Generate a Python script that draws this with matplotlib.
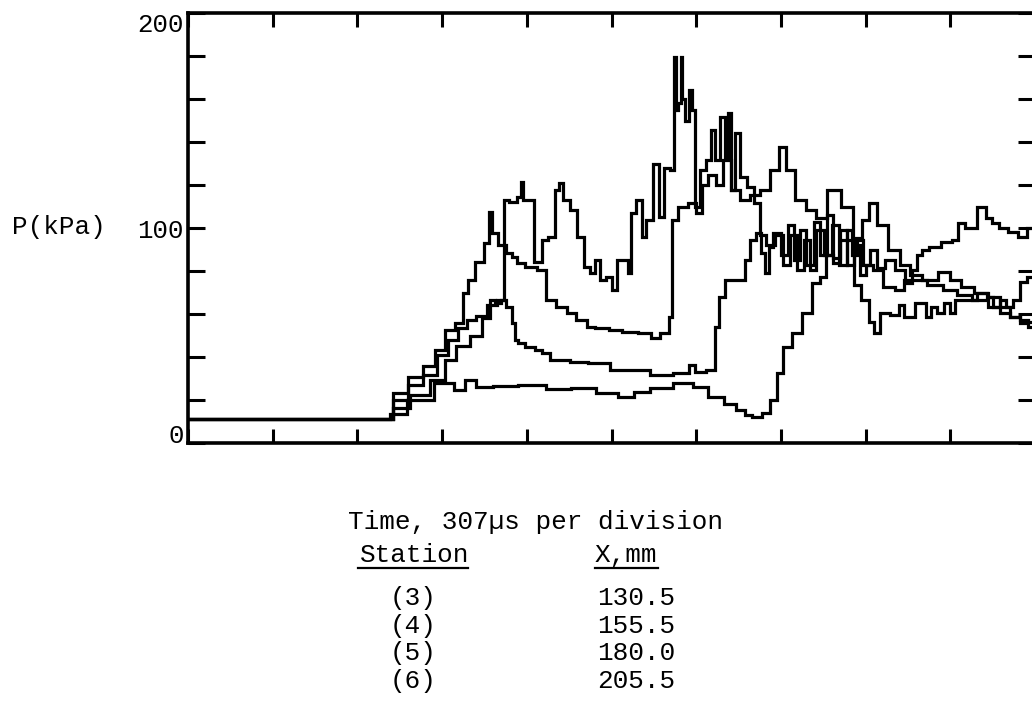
import matplotlib.pyplot as plt
from matplotlib.lines import Line2D

plt.rcParams['font.family'] = ['Liberation Mono', 'DejaVu Sans Mono']

# Pressure traces: time in divisions (307 us each), P in kPa
t_s3 = [0.00, 2.33, 2.50, 2.70, 2.86, 2.98, 3.09, 3.21, 3.29, 3.33, 3.45, 3.53, 3.57, 3.60,
        3.72, 3.80, 3.84, 3.92, 4.04, 4.19, 4.27, 4.43, 4.51, 4.66, 4.75, 4.86, 5.07, 5.18,
        5.45, 5.49, 5.66, 5.69, 5.73, 5.84, 5.96, 6.04, 6.10, 6.19, 6.28, 6.36, 6.46, 6.58,
        6.69, 6.81, 6.93, 7.02, 7.11, 7.23, 7.37, 7.46, 7.64, 7.79, 7.91, 8.00, 8.09, 8.19,
        8.35, 8.47, 8.58, 8.76, 8.94, 9.06, 9.20, 9.35, 9.53, 9.65, 9.76, 9.88, 9.96]
p_s3 = [11.2, 11.2, 23.3, 30.7, 35.8, 43.3, 52.6, 55.8, 69.8, 75.8, 84.0, 93.0, 107.4, 97.7,
        92.0, 88.4, 86.5, 83.7, 81.9, 80.5, 66.5, 63.3, 60.5, 57.2, 54.0, 53.5, 52.6, 51.6,
        51.2, 48.8, 51.2, 58.6, 103.7, 109.8, 111.6, 107.0, 120.0, 124.7, 120.0, 131.6, 117.7, 113.0,
        115.3, 117.7, 127.0, 137.7, 127.0, 113.0, 108.4, 104.7, 117.7, 109.8, 95.3, 103.7, 111.6, 101.4,
        89.8, 82.8, 78.0, 75.8, 79.5, 75.8, 72.6, 69.8, 68.0, 63.3, 58.6, 55.8, 54.0]

t_s4 = [0.00, 2.33, 2.50, 2.70, 2.86, 3.01, 3.12, 3.25, 3.33, 3.48,
        3.57, 3.72, 3.74, 3.84, 3.92, 3.94, 3.96, 4.07, 4.10, 4.16,
        4.19, 4.31, 4.36, 4.39, 4.47, 4.55, 4.63, 4.71, 4.78, 4.83,
        4.90, 4.98, 5.02, 5.10, 5.18, 5.22, 5.25, 5.34, 5.37, 5.45,
        5.54, 5.57, 5.66, 5.73, 5.75, 5.77, 5.81, 5.82, 5.84, 5.89,
        5.93, 5.96, 6.01, 6.08, 6.16, 6.20, 6.25, 6.32, 6.36, 6.40,
        6.43, 6.48, 6.55, 6.64, 6.72, 6.78, 6.87, 6.99, 7.07, 7.14,
        7.23, 7.31, 7.38, 7.46, 7.56, 7.64, 7.73, 7.82, 7.90, 7.99,
        8.08, 8.13, 8.21, 8.37, 8.41, 8.49, 8.68, 8.74, 8.80, 8.88,
        8.96, 9.03, 9.08, 9.23, 9.39, 9.47, 9.55, 9.62, 9.70, 9.79,
        9.86, 9.96]
p_s4 = [11.2, 11.2, 20.0, 27.0, 31.6, 41.0, 47.9, 53.5, 57.2, 59.0,
        64.0, 66.5, 113.0, 112.0, 114.4, 121.4, 113.0, 113.0, 84.0, 84.0,
        94.4, 95.8, 117.7, 121.0, 113.0, 108.4, 95.8, 81.9, 79.0, 85.0,
        75.8, 77.2, 71.2, 85.0, 85.0, 79.0, 107.0, 113.0, 95.8, 103.7,
        130.0, 105.0, 128.0, 127.0, 179.5, 155.0, 158.0, 179.5, 160.0, 150.0,
        164.0, 155.0, 109.8, 127.0, 131.6, 145.6, 131.6, 151.6, 133.0, 153.5,
        117.7, 144.0, 123.7, 119.0, 111.6, 96.7, 92.0, 96.7, 82.8, 96.7,
        80.5, 94.4, 80.5, 99.0, 87.4, 101.4, 82.8, 94.4, 73.5, 66.5,
        56.3, 51.2, 60.5, 59.5, 64.0, 58.6, 65.0, 58.6, 63.3, 60.5,
        65.0, 60.5, 66.5, 66.5, 69.8, 68.0, 63.3, 66.5, 63.3, 66.5,
        75.0, 77.2]

t_s5 = [0.00, 2.33, 2.50, 2.74, 2.98, 3.09, 3.25, 3.41, 3.53, 3.60,
        3.66, 3.72, 3.80, 3.84, 3.88, 3.92, 4.04, 4.16, 4.19, 4.36,
        4.66, 4.78, 5.18, 5.34, 5.57, 5.89, 5.93, 6.04, 6.20, 6.25,
        6.28, 6.40, 6.55, 6.60, 6.67, 6.75, 6.79, 6.84, 6.87, 6.95,
        7.05, 7.11, 7.19, 7.26, 7.34, 7.43, 7.50, 7.58, 7.66, 7.73,
        7.82, 7.90, 7.97, 8.05, 8.13, 8.29, 8.41, 8.49, 8.64, 8.82,
        9.00, 9.17, 9.35, 9.53, 9.65, 9.76, 9.88, 9.96]
p_s5 = [11.2, 11.0, 16.3, 22.3, 29.3, 38.6, 45.0, 49.8, 58.0, 66.5,
        65.0, 66.5, 63.3, 55.8, 47.9, 46.5, 44.7, 43.3, 41.9, 38.6,
        37.7, 37.2, 34.0, 34.0, 31.6, 32.6, 36.3, 33.0, 34.0, 54.0,
        68.0, 75.8, 75.8, 85.0, 94.4, 97.7, 88.4, 79.0, 91.0, 97.7,
        87.4, 101.4, 85.0, 99.0, 82.8, 102.8, 87.4, 106.0, 86.0, 99.0,
        82.8, 92.0, 78.0, 82.8, 80.5, 72.6, 71.2, 75.8, 75.8, 73.5,
        71.2, 68.8, 66.5, 63.3, 60.5, 58.6, 57.2, 56.3]

t_s6 = [0.00, 2.33, 2.44, 2.74, 3.06, 3.21, 3.33, 3.48, 3.72, 4.07,
        4.39, 4.66, 4.98, 5.18, 5.34, 5.57, 5.89, 6.04, 6.25, 6.40,
        6.55, 6.60, 6.72, 6.84, 6.91, 6.99, 7.07, 7.19, 7.31, 7.43,
        7.50, 7.56, 7.66, 7.73, 7.82, 7.87, 7.93, 8.02, 8.09, 8.17,
        8.29, 8.41, 8.52, 8.58, 8.64, 8.68, 8.82, 8.96, 9.08, 9.11,
        9.23, 9.39, 9.45, 9.53, 9.62, 9.74, 9.86, 9.94]
p_s6 = [11.2, 11.2, 13.5, 20.0, 28.0, 24.7, 29.3, 26.0, 26.5, 27.0,
        25.0, 25.6, 23.3, 21.4, 23.7, 25.5, 27.9, 26.0, 21.4, 18.0,
        15.3, 13.0, 12.0, 14.0, 20.0, 32.6, 44.7, 51.2, 60.5, 74.4,
        77.2, 87.4, 83.7, 94.4, 99.0, 87.4, 94.4, 82.8, 89.8, 81.4,
        85.0, 80.5, 74.4, 80.5, 87.4, 89.8, 91.0, 93.5, 94.4, 102.3,
        100.0, 109.8, 104.7, 102.3, 100.0, 98.0, 95.8, 100.0]

stations = ['(3)', '(4)', '(5)', '(6)']
x_mm = ['130.5', '155.5', '180.0', '205.5']

W, H = 1032, 712
fig = plt.figure(figsize=(W / 100, H / 100), dpi=100)
ax = fig.add_axes([188 / W, (H - 443) / H, 847 / W, 430 / H])

# the record is a stepped trace, so draw it as steps
for t, p in [(t_s3, p_s3), (t_s4, p_s4), (t_s5, p_s5), (t_s6, p_s6)]:
    ax.plot(t, p, color='black', lw=2.3, drawstyle='steps-mid', solid_joinstyle='miter')

ax.set_xlim(0, 10)
ax.set_ylim(0, 200)
ax.set_xticks(range(11))
ax.set_xticklabels([])
ax.set_yticks(range(0, 201, 20))
ax.set_yticklabels([str(v) if v % 100 == 0 else '' for v in range(0, 201, 20)])
ax.tick_params(axis='y', direction='in', length=12, width=2.2, left=True, right=True,
               labelsize=18.5, pad=3)
ax.tick_params(axis='x', direction='in', length=10, width=2.2, top=True, bottom=True)
labels = ax.get_yticklabels()
labels[0].set_verticalalignment('baseline')
labels[-1].set_verticalalignment('top')
for s in ax.spines.values():
    s.set_linewidth(2.6)

fs = 18.7
fig.text(12 / W, 1 - 227 / H, 'P(kPa)', fontsize=fs, va='center', ha='left')
fig.text(348 / W, 1 - 529 / H, 'Time, 307µs per division', fontsize=fs, va='baseline')
fig.text(360 / W, 1 - 562 / H, 'Station', fontsize=fs, va='baseline')
fig.text(595 / W, 1 - 562 / H, 'X,mm', fontsize=fs, va='baseline')
fig.add_artist(Line2D([358 / W, 468 / W], [1 - 568 / H] * 2, color='black', lw=1.6))
fig.add_artist(Line2D([595 / W, 658 / W], [1 - 568 / H] * 2, color='black', lw=1.6))
for i, (st, xm) in enumerate(zip(stations, x_mm)):
    yb = 1 - (605 + 27.7 * i) / H
    fig.text(390 / W, yb, st, fontsize=fs, va='baseline')
    fig.text(597 / W, yb, xm, fontsize=fs, va='baseline')

fig.savefig('out.png', dpi=100)
